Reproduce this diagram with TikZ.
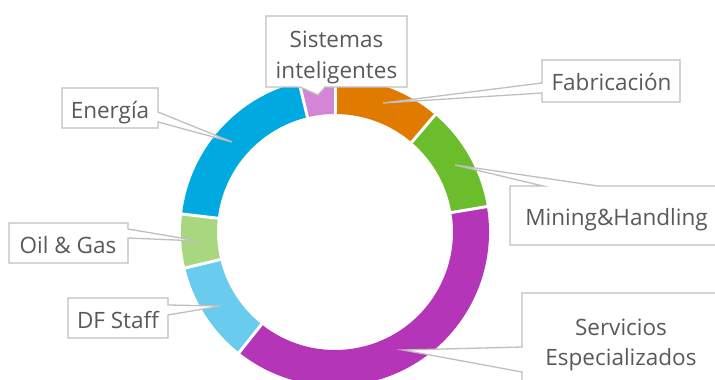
\documentclass[tikz,border=0pt]{standalone}
\usepackage{fontspec}
\setmainfont{Open Sans}
\definecolor{txtgray}{HTML}{595959}
\definecolor{linegray}{HTML}{BFBFBF}
\definecolor{cOrange}{HTML}{E07B00}
\definecolor{cGreen}{HTML}{6BBD2B}
\definecolor{cPurple}{HTML}{B535B8}
\definecolor{cSky}{HTML}{69CBED}
\definecolor{cLime}{HTML}{A8D780}
\definecolor{cBlue}{HTML}{00A9E0}
\definecolor{cPink}{HTML}{D286D5}
\newcommand\donutseg[3]{%
  \fill[#1] (#2:154) arc[start angle=#2,end angle=#3,radius=154] -- (#3:118) arc[start angle=#3,end angle=#2,radius=118] -- cycle;}
\begin{document}
\begin{tikzpicture}[x=1pt,y=-1pt,
  lbl/.style={text=txtgray, font=\fontsize{22.5}{30}\selectfont, inner sep=0pt, anchor=base},
  callout/.style={draw=linegray, fill=white, line width=1.3pt, line join=miter},
  sep/.style={draw=white, line width=3pt}]
\useasboundingbox (0,0) rectangle (715,380);
\fill[white] (0,0) rectangle (715,380);
% donut
\begin{scope}[shift={(335,232)}, yscale=-1]
  \donutseg{cOrange}{90}{49.5}
  \donutseg{cGreen}{49.5}{9.5}
  \donutseg{cPurple}{9.5}{-128.5}
  \donutseg{cSky}{-128.5}{-166.5}
  \donutseg{cLime}{-166.5}{-186.7}
  \donutseg{cBlue}{-186.7}{-256.5}
  \donutseg{cPink}{-256.5}{-270}
  \foreach \a in {90,49.5,9.5,-128.5,-166.5,-186.7,-256.5}
    \draw[sep] (\a:115) -- (\a:157);
\end{scope}
% leader targets
\coordinate (pSis) at (318,95);
\coordinate (pFab) at (383,103);
\coordinate (pMin) at (455,165);
\coordinate (pSer) at (403,350);
\coordinate (pEne) at (232,142);
\coordinate (pOil) at (199,241);
\coordinate (pDF)  at (221,306);
% callouts
\draw[callout] (266,16) -- (407,16) -- (407,87) -- (325,87) -- (pSis) -- (300,87) -- (266,87) -- cycle;
\draw[callout] (542,60) -- (680,60) -- (680,102) -- (542,102) -- (542,93) -- (pFab) -- (542,83) -- cycle;
\draw[callout] (510,186) -- (543,186) -- (pMin) -- (598,186) -- (724,186) -- (724,245) -- (510,245) -- cycle;
\draw[callout] (522,293) -- (724,293) -- (724,392) -- (522,392) -- (522,372) -- (pSer) -- (522,347) -- cycle;
\draw[callout] (62,88) -- (158,88) -- (158,112) -- (pEne) -- (158,122) -- (158,128) -- (62,128) -- cycle;
\draw[callout] (9,223) -- (128,223) -- (128,229) -- (pOil) -- (128,238) -- (128,263) -- (9,263) -- cycle;
\draw[callout] (68,298) -- (168,298) -- (168,305) -- (pDF) -- (168,315) -- (168,338) -- (68,338) -- cycle;
% labels
\node[lbl] (sis1) at (336.5,47) {Sistemas};
\node[lbl] (sis2) at (336.5,78) {inteligentes};
\node[lbl] (fab) at (611.5,90) {Fabricación};
\node[lbl] (min) at (616.5,225) {Mining\&Handling};
\node[lbl] (ser1) at (621,335) {Servicios};
\node[lbl] (ser2) at (621,365) {Especializados};
\node[lbl] (ene) at (110,118) {Energía};
\node[lbl] (oil) at (68,253) {Oil \& Gas};
\node[lbl] (df) at (118,328) {DF Staff};
\end{tikzpicture}
\end{document}
